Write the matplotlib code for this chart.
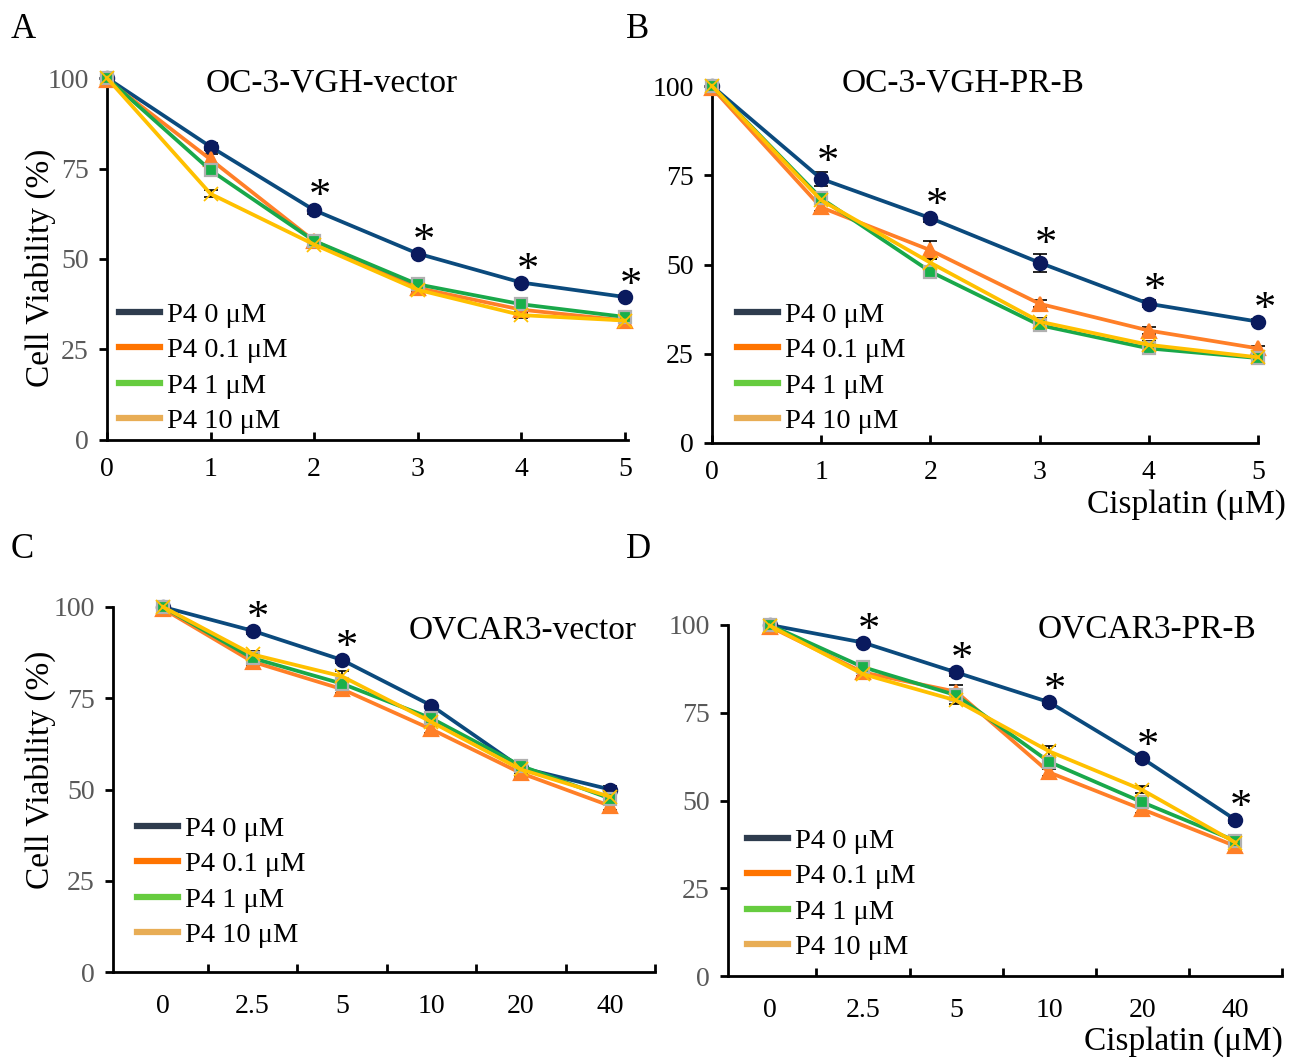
import matplotlib
matplotlib.use('Agg')
import matplotlib.pyplot as plt
import numpy as np

plt.rcParams['font.family'] = ['Liberation Serif', 'DejaVu Serif']

series_labels = ['P4 0 μM', 'P4 0.1 μM', 'P4 1 μM', 'P4 10 μM']

# OC-3-VGH-vector
a_x = [0, 1, 2, 3, 4, 5]
a_y = [[100, 81, 63.5, 51.5, 43.5, 39.5],
       [99.5, 77.5, 55, 42, 36, 33],
       [100, 74.5, 55, 43, 37.5, 34],
       [100, 68, 54, 41.5, 34.5, 33]]
a_err = [[0.5, 1, 1, 0.8, 0.8, 0.6],
         [0.8, 1.5, 1, 0.8, 1, 0.6],
         [0.5, 1.2, 1, 0.8, 1, 0.6],
         [0.5, 1, 1, 0.8, 0.8, 0.6]]
a_star = [False, False, True, True, True, True]

# OC-3-VGH-PR-B
b_x = [0, 1, 2, 3, 4, 5]
b_y = [[100, 74, 63, 50.5, 39, 34],
       [99.5, 66, 54, 39, 31.5, 26.5],
       [100, 68.5, 48, 33, 26.5, 23.8],
       [100, 68, 50.5, 34, 27.5, 24]]
b_err = [[0.5, 2, 1, 2.5, 1, 0.8],
         [0.8, 1, 2.5, 1, 1, 0.8],
         [0.5, 1.5, 1.5, 1, 1, 0.8],
         [0.5, 1, 1, 1, 1, 0.8]]
b_star = [False, True, True, True, True, True]

# OVCAR3-vector
c_cats = ['0', '2.5', '5', '10', '20', '40']
c_y = [[100, 93.5, 85.5, 73, 56, 50],
       [99.5, 85, 77.5, 66.5, 54.5, 45.5],
       [100, 86, 79, 69.5, 56.5, 47.5],
       [100, 87, 81, 68.5, 55.5, 48]]
c_err = [[0.5, 0.8, 0.8, 0.8, 1, 1],
         [0.5, 1, 1, 1, 1, 1],
         [0.5, 1, 1, 1, 1, 1],
         [0.5, 1, 1.5, 1, 1, 1]]
c_star = [False, True, True, False, False, False]

# OVCAR3-PR-B
d_cats = ['0', '2.5', '5', '10', '20', '40']
d_y = [[100, 95, 86.5, 78, 62, 44.5],
       [99.5, 86.5, 81, 58, 47.5, 37],
       [100, 88, 80, 61, 49.5, 38.5],
       [99.8, 86, 78.5, 64, 53, 38]]
d_err = [[0.5, 0.8, 1, 0.8, 0.8, 0.8],
         [0.5, 1, 2, 1, 1, 1],
         [0.5, 1, 1, 1, 1, 1],
         [0.5, 1, 1, 1.5, 1, 1]]
d_star = [False, True, True, True, True, True]

line_colors = ['#0b4a7d', '#ff7f27', '#19a84a', '#ffc000']
marker_face = ['#0a1a5e', '#ff7f27', '#19b04a', '#ffc000']
marker_edge = ['#0a1a5e', '#ff7f27', '#b0b0b0', '#ffc000']
markers = ['o', '^', 's', 'x']
msizes = [9.5, 10, 8.5, 10]
handle_colors = ['#2e3c4e', '#ff7400', '#66cc3f', '#e8ad55']

W, H = 1295, 1059
fig = plt.figure(figsize=(W / 100, H / 100), dpi=100)


def px_axes(l, r, b, t):
    return fig.add_axes([l / W, 1 - b / H, (r - l) / W, (b - t) / H])


def draw_panel(ax, x, ys, errs, stars, xlim, ytick_color):
    for i in range(4):
        ax.errorbar(x, ys[i], yerr=errs[i], fmt='none', ecolor='black',
                    elinewidth=1.2, capsize=5, capthick=1.2, zorder=2, clip_on=False)
    for i in range(4):
        ax.plot(x, ys[i], color=line_colors[i], lw=2.7, marker=markers[i],
                ms=msizes[i], mfc=marker_face[i], mec=marker_edge[i],
                mew=1.6 if markers[i] != 'x' else 1.3, zorder=3 + i * 0.1,
                clip_on=False)
    top = np.array(ys[0]) + np.array(errs[0])
    for xi, yi, s in zip(x, top, stars):
        if s:
            ax.text(xi + 0.06, yi + 2.5, '*', fontsize=32, ha='center',
                    va='center', zorder=5)
    ax.set_xlim(*xlim)
    ax.set_ylim(0, 100)
    ax.set_yticks([0, 25, 50, 75, 100])
    for s in ['top', 'right']:
        ax.spines[s].set_visible(False)
    for s in ['left', 'bottom']:
        ax.spines[s].set_linewidth(2)
    ax.tick_params(axis='y', direction='out', length=6, width=2, pad=7,
                   labelsize=20, labelcolor=ytick_color)
    ax.tick_params(axis='x', direction='in', length=6, width=2, pad=12,
                   labelsize=20)
    handles = [plt.Line2D([], [], color=c, lw=4.5) for c in handle_colors]
    return handles


def add_legend(ax, handles, x_px, y_px):
    ax.legend(handles, series_labels, loc='upper left',
              bbox_to_anchor=(x_px / W, 1 - y_px / H),
              bbox_transform=fig.transFigure, frameon=False, fontsize=20.5,
              handlelength=1.45, handletextpad=0.22, labelspacing=0.33,
              borderpad=0, borderaxespad=0)


# A
axA = px_axes(107, 628, 440, 78)
h = draw_panel(axA, a_x, a_y, a_err, a_star, (0, 5.03), '#595959')
axA.set_xticks(a_x)
add_legend(axA, h, 119, 302)

# B
axB = px_axes(712, 1258, 443, 86)
h = draw_panel(axB, b_x, b_y, b_err, b_star, (0, 5.0), 'black')
axB.set_xticks(b_x)
add_legend(axB, h, 737, 302)

# C
axC = px_axes(113, 655, 972, 607)
cx = np.arange(len(c_cats))
h = draw_panel(axC, cx, c_y, c_err, c_star, (-0.56, 5.5), '#595959')
axC.set_xticks(cx + 0.5)
axC.set_xticklabels([])
axC.set_xticks(cx, minor=True)
axC.set_xticklabels(c_cats, minor=True)
axC.tick_params(axis='x', which='minor', length=0, pad=16, labelsize=20)
add_legend(axC, h, 137, 816)

# D
axD = px_axes(728, 1282, 976, 625)
dx = np.arange(len(d_cats))
h = draw_panel(axD, dx, d_y, d_err, d_star, (-0.45, 5.5), '#595959')
axD.set_xticks(dx + 0.5)
axD.set_xticklabels([])
axD.set_xticks(dx, minor=True)
axD.set_xticklabels(d_cats, minor=True)
axD.tick_params(axis='x', which='minor', length=0, pad=16, labelsize=20)
add_legend(axD, h, 747, 828)

# titles
fig.text(332 / W, 1 - 83 / H, 'OC-3-VGH-vector', fontsize=24, ha='center', va='center')
fig.text(963 / W, 1 - 83 / H, 'OC-3-VGH-PR-B', fontsize=24, ha='center', va='center')
fig.text(523 / W, 1 - 630 / H, 'OVCAR3-vector', fontsize=24, ha='center', va='center')
fig.text(1147 / W, 1 - 629 / H, 'OVCAR3-PR-B', fontsize=24, ha='center', va='center')

# axis labels
fig.text(40 / W, 1 - 268 / H, 'Cell Viability (%)', fontsize=24, rotation=90,
         ha='center', va='center')
fig.text(40 / W, 1 - 770 / H, 'Cell Viability (%)', fontsize=24, rotation=90,
         ha='center', va='center')
fig.text(1286 / W, 1 - 505 / H, 'Cisplatin (μM)', fontsize=24, ha='right', va='center')
fig.text(1283 / W, 1 - 1042 / H, 'Cisplatin (μM)', fontsize=24, ha='right', va='center')

# panel letters
for letter, (lx, ly) in zip('ABCD', [(11, 30), (626, 30), (11, 550), (626, 550)]):
    fig.text(lx / W, 1 - ly / H, letter, fontsize=25, ha='left', va='center')

fig.savefig('out.png', dpi=100)
